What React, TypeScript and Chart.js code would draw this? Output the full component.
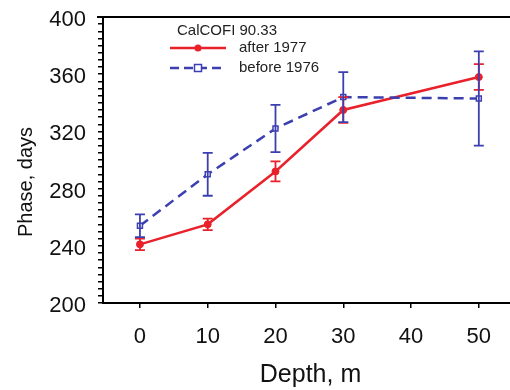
import React, { useEffect, useRef } from "react";
import { Chart, registerables } from "chart.js";

Chart.register(...registerables);

// ---- data ----
const depths = [0, 10, 20, 30, 50];
const after1977 = [241, 255, 292, 335, 358];
const after1977Err = [4, 4, 7, 9, 9];
const before1976 = [254, 290, 322, 344, 343];
const before1976Err = [8, 15, 16.5, 17.5, 33];
const xTicks = [0, 10, 20, 30, 40, 50];
const yMin = 200;
const yMax = 400;
const yMajorStep = 40;
const yMinorStep = 5;
const legendTitle = "CalCOFI 90.33";
const seriesNames = ["after 1977", "before 1976"];
const xTitle = "Depth, m";
const yTitle = "Phase, days";

const RED = "#e8212b";
const BLUE = "#3c3fb0";
const FONT = "'Liberation Sans', Arial, Helvetica, sans-serif";

const framePlugin = {
  id: "frame",
  afterDraw(chart: any) {
    const { ctx, chartArea } = chart;
    ctx.save();
    ctx.strokeStyle = "#000";
    ctx.lineWidth = 2;
    ctx.beginPath();
    ctx.moveTo(chartArea.left - 6, chartArea.top);
    ctx.lineTo(chartArea.right, chartArea.top);
    ctx.stroke();
    ctx.restore();
  },
};

const errorBarPlugin = {
  id: "errorBars",
  afterDatasetsDraw(chart: any) {
    const { ctx } = chart;
    const xs = chart.scales.x;
    const ys = chart.scales.y;
    const groups = [
      { vals: after1977, errs: after1977Err, color: RED },
      { vals: before1976, errs: before1976Err, color: BLUE },
    ];
    ctx.save();
    groups.forEach((g) => {
      ctx.strokeStyle = g.color;
      ctx.lineWidth = 1.8;
      depths.forEach((d, i) => {
        const px = xs.getPixelForValue(d);
        const t = ys.getPixelForValue(g.vals[i] + g.errs[i]);
        const b = ys.getPixelForValue(g.vals[i] - g.errs[i]);
        ctx.beginPath();
        ctx.moveTo(px, t);
        ctx.lineTo(px, b);
        ctx.moveTo(px - 5, t);
        ctx.lineTo(px + 5, t);
        ctx.moveTo(px - 5, b);
        ctx.lineTo(px + 5, b);
        ctx.stroke();
      });
    });
    ctx.restore();
  },
};

const legendPlugin = {
  id: "customLegend",
  afterDraw(chart: any) {
    const { ctx } = chart;
    ctx.save();
    ctx.fillStyle = "#222";
    ctx.font = `15px ${FONT}`;
    ctx.textAlign = "left";
    ctx.textBaseline = "alphabetic";
    ctx.fillText(legendTitle, 177, 35);

    // red item
    ctx.strokeStyle = RED;
    ctx.lineWidth = 2.5;
    ctx.setLineDash([]);
    ctx.beginPath();
    ctx.moveTo(170, 48);
    ctx.lineTo(226, 48);
    ctx.stroke();
    ctx.fillStyle = RED;
    ctx.beginPath();
    ctx.arc(198, 48, 3.5, 0, Math.PI * 2);
    ctx.fill();

    // blue item
    ctx.strokeStyle = BLUE;
    ctx.setLineDash([9, 5]);
    ctx.beginPath();
    ctx.moveTo(170, 68);
    ctx.lineTo(226, 68);
    ctx.stroke();
    ctx.setLineDash([]);
    ctx.fillStyle = "#fff";
    ctx.lineWidth = 1.5;
    ctx.fillRect(194.5, 64.5, 7, 7);
    ctx.strokeRect(194.5, 64.5, 7, 7);

    ctx.fillStyle = "#222";
    ctx.textBaseline = "middle";
    ctx.fillText(seriesNames[0], 239, 48);
    ctx.fillText(seriesNames[1], 239, 68);
    ctx.restore();
  },
};

const titlesPlugin = {
  id: "axisTitles",
  afterDraw(chart: any) {
    const { ctx, chartArea } = chart;
    ctx.save();
    ctx.fillStyle = "#111";
    ctx.font = `25px ${FONT}`;
    ctx.textAlign = "center";
    ctx.textBaseline = "alphabetic";
    ctx.fillText(xTitle, (chartArea.left + chartArea.right) / 2 + 4, 382);

    ctx.translate(26, (chartArea.top + chartArea.bottom) / 2 + 22);
    ctx.rotate(-Math.PI / 2);
    ctx.font = `20px ${FONT}`;
    ctx.textBaseline = "middle";
    ctx.fillText(yTitle, 0, 0);
    ctx.restore();
  },
};

export default function App() {
  const ref = useRef<HTMLCanvasElement | null>(null);

  useEffect(() => {
    const canvas = ref.current;
    if (!canvas) return;
    const chart = new Chart(canvas, {
      type: "line",
      data: {
        datasets: [
          {
            label: seriesNames[1],
            data: depths.map((x, i) => ({ x, y: before1976[i] })),
            borderColor: BLUE,
            borderWidth: 2.5,
            borderDash: [10, 6],
            pointStyle: "rect",
            pointRadius: 3.5,
            pointBackgroundColor: "#fff",
            pointBorderColor: BLUE,
            pointBorderWidth: 1.5,
            fill: false,
            tension: 0,
            order: 0,
          },
          {
            label: seriesNames[0],
            data: depths.map((x, i) => ({ x, y: after1977[i] })),
            borderColor: RED,
            borderWidth: 2.5,
            pointStyle: "circle",
            pointRadius: 3.5,
            pointBackgroundColor: RED,
            pointBorderColor: RED,
            pointBorderWidth: 1,
            fill: false,
            tension: 0,
            order: 1,
          },
        ],
      },
      options: {
        animation: false,
        responsive: false,
        maintainAspectRatio: false,
        layout: { autoPadding: false, padding: { top: 17, right: 0, left: 0, bottom: 0 } },
        plugins: {
          legend: { display: false },
          tooltip: { enabled: false },
        },
        scales: {
          x: {
            type: "linear",
            min: -5.45,
            max: 54.6,
            afterBuildTicks: (s: any) => {
              s.ticks = xTicks.map((v) => ({ value: v }));
            },
            afterFit: (s: any) => {
              s.height = 87;
              s.paddingLeft = 0;
              s.paddingRight = 0;
            },
            grid: {
              drawOnChartArea: false,
              drawTicks: true,
              tickLength: 5,
              color: "#000",
              lineWidth: 1.5,
            },
            border: { display: true, color: "#000", width: 2 },
            ticks: {
              font: { family: FONT, size: 22 },
              color: "#111",
              padding: 16,
              maxRotation: 0,
              autoSkip: false,
              callback: (v: any) => String(v),
            },
          },
          y: {
            type: "linear",
            min: yMin,
            max: yMax,
            afterBuildTicks: (s: any) => {
              const t: any[] = [];
              for (let v = yMin; v <= yMax; v += yMinorStep) t.push({ value: v });
              s.ticks = t;
            },
            afterFit: (s: any) => {
              s.width = 103;
              s.paddingTop = 0;
              s.paddingBottom = 0;
            },
            grid: {
              drawOnChartArea: false,
              drawTicks: true,
              tickLength: 5,
              color: "#000",
              lineWidth: 1.5,
            },
            border: { display: true, color: "#000", width: 2 },
            ticks: {
              font: { family: FONT, size: 22 },
              color: "#111",
              padding: 12,
              autoSkip: false,
              labelOffset: 3,
              callback: (v: any) => (Number(v) % yMajorStep === 0 ? String(v) : ""),
            },
          },
        },
      },
      plugins: [framePlugin, errorBarPlugin, legendPlugin, titlesPlugin],
    } as any);
    return () => chart.destroy();
  }, []);

  return (
    <div style={{ position: "absolute", left: 0, top: 0, width: 510, height: 390, background: "#fff" }}>
      <canvas ref={ref} width={510} height={390} style={{ width: 510, height: 390, display: "block" }} />
    </div>
  );
}
